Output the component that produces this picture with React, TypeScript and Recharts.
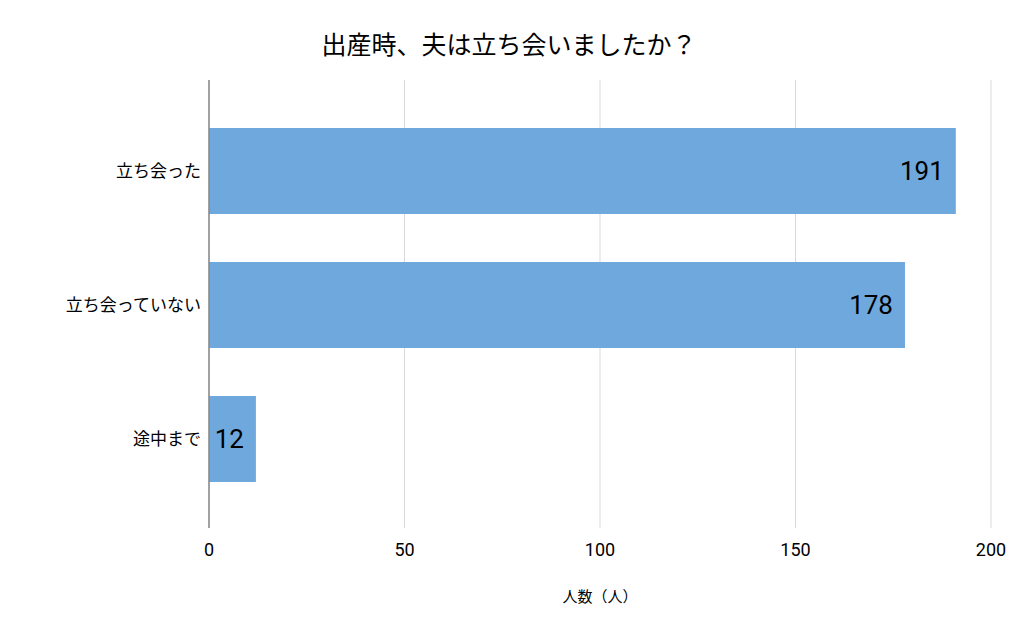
import { BarChart, Bar, XAxis, YAxis, CartesianGrid, LabelList } from 'recharts'

const categories = ['立ち会った', '立ち会っていない', '途中まで']
const counts = [191, 178, 12]
const xTicks = [0, 50, 100, 150, 200]

const title = '出産時、夫は立ち会いましたか？'
const xLabel = '人数（人）'

const data = categories.map((name, i) => ({ name, count: counts[i] }))

const font = "Roboto, 'Noto Sans CJK JP', sans-serif"

export default function App() {
  return (
    <div style={{ position: 'absolute', left: 0, top: 0, width: 1024, height: 634, background: '#fff', fontFamily: font }}>
      <div
        style={{
          position: 'absolute',
          left: 0,
          top: 31,
          width: 1018,
          textAlign: 'center',
          fontSize: 25,
          lineHeight: '30px',
          color: '#000',
        }}
      >
        {title}
      </div>
      <BarChart
        width={1024}
        height={634}
        data={data}
        layout="vertical"
        margin={{ top: 80, right: 33, left: 0, bottom: 25 }}
        style={{ fontFamily: font }}
      >
        <CartesianGrid horizontal={false} stroke="#d9d9d9" />
        <XAxis
          type="number"
          domain={[0, 200]}
          ticks={xTicks}
          axisLine={false}
          tickLine={false}
          tickMargin={9}
          height={81}
          tick={{ fill: '#000', fontSize: 18 }}
          label={{ value: xLabel, position: 'insideBottom', offset: 7, fill: '#000', fontSize: 15 }}
        />
        <YAxis
          type="category"
          dataKey="name"
          width={209}
          padding={{ top: 24, bottom: 22 }}
          axisLine={{ stroke: '#888', strokeWidth: 1.5 }}
          tickLine={false}
          tick={{ fill: '#000', fontSize: 17 }}
        />
        <Bar dataKey="count" fill="#6fa8dc" barSize={86} isAnimationActive={false}>
          <LabelList dataKey="count" position="insideRight" offset={12} fill="#000" fontSize={26} />
        </Bar>
      </BarChart>
    </div>
  )
}
